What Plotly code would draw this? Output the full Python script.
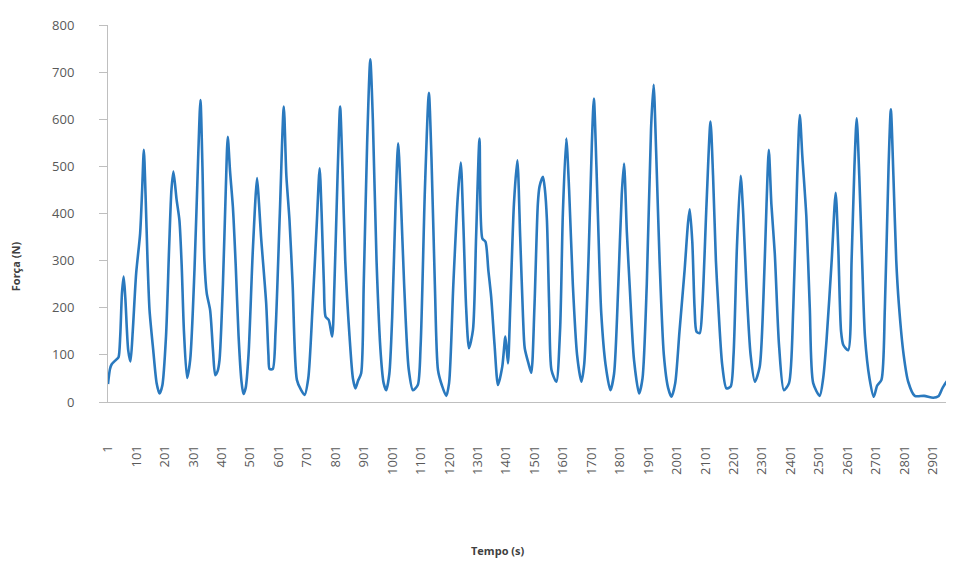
import plotly.graph_objects as go

# Time (category index) and force values
tempo = [1, 8, 14, 30, 38, 44, 50, 56, 62, 72, 80, 88, 100, 114, 121, 127, 133, 140, 147, 160, 172, 182,
         192, 205, 216, 224, 231, 242, 252, 260, 268, 279, 290, 305, 318, 326, 333, 340, 348, 360, 370, 378,
         386, 393, 405, 415, 422, 430, 440, 450, 460, 470, 477, 485, 495, 510, 525, 532, 539, 557, 565, 569,
         580, 590, 605, 619, 628, 639, 650, 665, 680, 692, 705, 720, 735, 745, 752, 760, 766, 777, 789, 797,
         808, 817, 825, 835, 850, 862, 871, 880, 891, 900, 912, 923, 932, 945, 960, 970, 979, 990, 1000, 1012,
         1021, 1030, 1042, 1058, 1073, 1090, 1100, 1115, 1129, 1138, 1150, 1161, 1175, 1190, 1200, 1215, 1230,
         1241, 1250, 1260, 1270, 1284, 1295, 1307, 1317, 1328, 1338, 1348, 1360, 1372, 1387, 1398, 1407, 1415,
         1428, 1440, 1450, 1460, 1466, 1480, 1489, 1500, 1512, 1518, 1530, 1537, 1544, 1552, 1560, 1577, 1590,
         1600, 1612, 1622, 1635, 1650, 1665, 1675, 1690, 1702, 1709, 1718, 1728, 1735, 1750, 1767, 1780, 1795,
         1807, 1815, 1825, 1835, 1850, 1868, 1880, 1895, 1910, 1919, 1928, 1940, 1955, 1970, 1982, 1995, 2010,
         2028, 2040, 2046, 2055, 2063, 2070, 2081, 2090, 2105, 2119, 2128, 2138, 2146, 2160, 2175, 2190, 2200,
         2212, 2225, 2234, 2245, 2260, 2275, 2292, 2305, 2316, 2324, 2333, 2345, 2360, 2377, 2395, 2410, 2424,
         2433, 2442, 2456, 2468, 2480, 2503, 2515, 2527, 2545, 2559, 2568, 2578, 2586, 2603, 2615, 2625, 2633,
         2642, 2652, 2662, 2678, 2693, 2705, 2720, 2732, 2745, 2753, 2762, 2772, 2781, 2798, 2814, 2837, 2870,
         2902, 2920, 2935, 2955, 2965, 2975]

forca = [38, 70, 80, 90, 95, 140, 230, 266, 220, 110, 86, 150, 273, 358, 450, 535, 440, 300, 195, 110, 40, 18,
         35, 140, 330, 450, 489, 430, 386, 290, 150, 51, 90, 280, 520, 641, 500, 300, 231, 195, 110, 57,
         65, 89, 250, 450, 563, 490, 414, 290, 140, 45, 17, 30, 100, 320, 475, 420, 351, 210, 100, 70,
         70, 150, 400, 627, 480, 386, 250, 47, 25, 15, 50, 200, 380, 496, 400, 250, 181, 174, 139, 250,
         480, 627, 500, 300, 140, 50, 29, 45, 61, 250, 550, 727, 600, 300, 100, 40, 25, 60, 180, 420,
         549, 440, 250, 70, 25, 36, 120, 450, 656, 520, 250, 68, 35, 13, 40, 250, 430,
         508, 380, 200, 114, 153, 350, 559, 347, 340, 280, 223, 120, 36, 75, 139, 82, 200,
         420, 513, 350, 180, 114, 80, 62, 200, 420, 457, 478, 450, 386, 200, 68, 43, 150,
         400, 559, 450, 250, 100, 43, 80, 300, 550, 644, 500, 300, 188, 80, 25, 60, 250,
         440, 506, 360, 245, 90, 18, 50, 250, 580, 673, 530, 300, 100, 30, 11, 40, 150,
         280, 380, 409, 340, 200, 149, 146, 200, 420, 595, 480, 300, 209, 80, 29, 33, 100,
         330, 480, 400, 250, 100, 43, 75, 220, 420, 535, 420, 315, 120, 25, 40, 200, 480,
         609, 520, 393, 200, 40, 13, 50, 132, 300, 444, 330, 150, 121, 110, 300, 500, 602,
         480, 300, 139, 50, 11, 35, 47, 200, 500, 621, 480, 300, 209, 100, 43, 13, 13,
         9, 12, 30, 47, 40, 25]

tick_vals = list(range(1, 2902, 100))
tick_text = [str(v) for v in tick_vals]
y_ticks = list(range(0, 801, 100))

fig = go.Figure()
fig.add_trace(go.Scatter(
    x=tempo, y=forca, mode="lines",
    line=dict(color="#2A79BE", width=2.6, shape="spline", smoothing=0.7),
    showlegend=False, hoverinfo="skip",
))

tick_font = dict(family="Open Sans, Noto Sans, sans-serif", size=13, color="#595959")

fig.update_layout(
    width=946, height=553,
    margin=dict(l=100, r=0, t=17, b=159),
    paper_bgcolor="white", plot_bgcolor="white",
    xaxis=dict(
        range=[1, 2975], tickmode="array", tickvals=tick_vals, ticktext=tick_text,
        tickangle=-90, tickfont=tick_font, showgrid=False, zeroline=False,
        showline=True, linecolor="#BFBFBF", linewidth=1, ticks="",
        ticklabelstandoff=37,
    ),
    yaxis=dict(
        range=[0, 800], tickvals=y_ticks, tickfont=tick_font, showgrid=False,
        zeroline=False, showline=True, linecolor="#BFBFBF", linewidth=1,
        ticks="outside", ticklen=8, tickcolor="#BFBFBF", ticklabelstandoff=22,
    ),
    annotations=[
        dict(text="<b>Força (N)</b>", xref="paper", yref="paper", x=-0.11, y=0.36,
             textangle=-90, showarrow=False, xanchor="center", yanchor="middle",
             font=dict(family="Open Sans, Noto Sans, sans-serif", size=11, color="#404040")),
        dict(text="<b>Tempo (s)</b>", xref="paper", yref="paper", x=0.46, y=-0.395,
             showarrow=False, xanchor="center", yanchor="middle",
             font=dict(family="Open Sans, Noto Sans, sans-serif", size=11, color="#404040")),
    ],
)

fig.write_html("out.html")
